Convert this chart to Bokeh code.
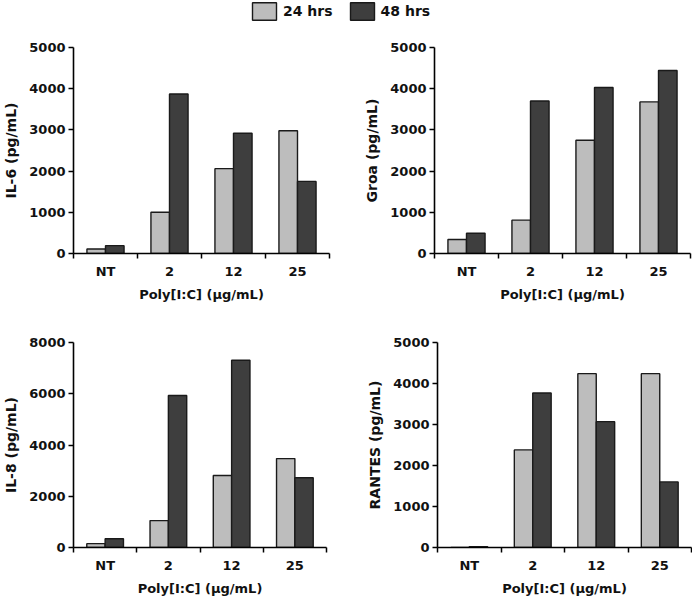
import numpy as np
from bokeh.plotting import figure
from bokeh.layouts import column, row
from bokeh.models import (Range1d, FixedTicker, CustomJSTickFormatter,
                          NumeralTickFormatter, Legend, LegendItem)
from bokeh.embed import file_html
from bokeh.resources import INLINE

# ---------------- data ----------------
categories = ["NT", "2", "12", "25"]
series_labels = ["24 hrs", "48 hrs"]
x_title = "Poly[I:C] (µg/mL)"

il6_24 = [110, 1000, 2060, 2980]
il6_48 = [190, 3870, 2920, 1750]
groa_24 = [340, 810, 2750, 3680]
groa_48 = [490, 3700, 4030, 4440]
il8_24 = [150, 1050, 2810, 3470]
il8_48 = [340, 5930, 7310, 2720]
rantes_24 = [0, 2380, 4240, 4240]
rantes_48 = [20, 3770, 3070, 1600]

il6_title = "IL-6 (pg/mL)"
groa_title = "Groa (pg/mL)"
il8_title = "IL-8 (pg/mL)"
rantes_title = "RANTES (pg/mL)"

# ---------------- style ----------------
LIGHT = "#BDBDBD"
DARK = "#3E3E3E"
FONT = "DejaVu Sans"
TXT = "#111111"
BAR_W = 0.29


def panel(w, h, ymax, ystep, ytitle, s24, s48, left, right, top, bottom):
    p = figure(width=w, height=h, x_range=Range1d(0, len(categories)),
               y_range=Range1d(0, ymax), output_backend="svg",
               toolbar_location=None, min_border_left=left,
               min_border_right=right, min_border_top=top,
               min_border_bottom=bottom)
    p.outline_line_color = None
    p.grid.visible = False
    x = np.arange(len(categories)) + 0.5
    p.vbar(x=x - BAR_W / 2, top=s24, width=BAR_W, fill_color=LIGHT,
           line_color="#1a1a1a", line_width=1.4)
    p.vbar(x=x + BAR_W / 2, top=s48, width=BAR_W, fill_color=DARK,
           line_color="#1a1a1a", line_width=1.4)

    xa = p.xaxis[0]
    xa.ticker = FixedTicker(ticks=list(x),
                            minor_ticks=list(range(len(categories) + 1)))
    xa.formatter = CustomJSTickFormatter(args=dict(labels=categories),
                                         code="return labels[Math.floor(tick)];")
    xa.major_tick_out = 0
    xa.major_tick_in = 0
    xa.minor_tick_out = 5
    xa.minor_tick_in = 0
    xa.minor_tick_line_width = 1.5
    xa.major_label_standoff = 5
    xa.axis_label = x_title
    xa.axis_label_standoff = 5

    ya = p.yaxis[0]
    ya.ticker = FixedTicker(ticks=list(range(0, ymax + 1, ystep)))
    ya.formatter = NumeralTickFormatter(format="0")
    ya.major_tick_out = 5
    ya.major_tick_in = 0
    ya.minor_tick_out = 0
    ya.minor_tick_in = 0
    ya.major_tick_line_width = 1.5
    ya.major_label_standoff = 3
    ya.axis_label = ytitle
    ya.axis_label_standoff = 7

    for ax in (xa, ya):
        ax.axis_line_width = 1.6
        ax.axis_line_color = "black"
        ax.major_tick_line_color = "black"
        ax.minor_tick_line_color = "black"
        ax.major_label_text_font = FONT
        ax.major_label_text_font_style = "bold"
        ax.major_label_text_font_size = "13px"
        ax.major_label_text_color = TXT
        ax.axis_label_text_font = FONT
        ax.axis_label_text_font_style = "bold"
        ax.axis_label_text_color = TXT
    xa.axis_label_text_font_size = "13px"
    ya.axis_label_text_font_size = "14px"
    return p


# ---------------- legend strip ----------------
lg = figure(width=692, height=26, output_backend="svg", toolbar_location=None,
            x_axis_location=None, y_axis_location=None, min_border=0,
            x_range=Range1d(0, 1), y_range=Range1d(0, 1))
lg.outline_line_color = None
lg.grid.visible = False
# swatch renderers: not drawn themselves, used only for their legend glyphs
r1 = lg.vbar(x=[0.5], top=[1], width=0.1, fill_color=LIGHT,
             line_color="#1a1a1a", line_width=1.4, visible=False)
r2 = lg.vbar(x=[0.5], top=[1], width=0.1, fill_color=DARK,
             line_color="#1a1a1a", line_width=1.4, visible=False)
legend = Legend(items=[LegendItem(label=series_labels[0], renderers=[r1]),
                       LegendItem(label=series_labels[1], renderers=[r2])],
                orientation="horizontal", location=(249, 4), padding=0,
                margin=0, spacing=14, label_standoff=4, glyph_width=30,
                glyph_height=22, label_height=22, border_line_color=None,
                background_fill_alpha=0, label_text_font=FONT,
                label_text_font_style="bold", label_text_font_size="14px",
                label_text_color=TXT, click_policy="none")
lg.add_layout(legend)

p1 = panel(347, 289, 5000, 1000, il6_title, il6_24, il6_48, 71, 18, 20, 62)
p2 = panel(345, 289, 5000, 1000, groa_title, groa_24, groa_48, 87, 2, 21, 60)
p3 = panel(347, 283, 8000, 2000, il8_title, il8_24, il8_48, 70, 21, 27, 50)
p4 = panel(345, 283, 5000, 1000, rantes_title, rantes_24, rantes_48, 90, 1, 25, 51)

layout = column(lg, row(p1, p2), row(p3, p4))

open("out.html", "w").write(file_html(layout, INLINE))
